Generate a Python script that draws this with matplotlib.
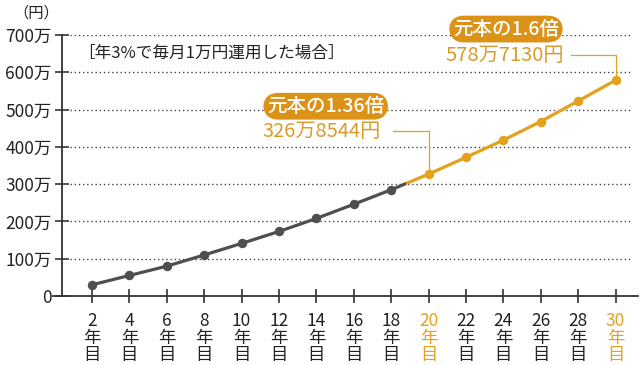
import matplotlib
matplotlib.use("Agg")
import matplotlib.pyplot as plt
from matplotlib.patches import Rectangle

plt.rcParams["font.family"] = ["Noto Sans CJK JP", "DejaVu Sans"]

# data (万円)
YEARS = [2, 4, 6, 8, 10, 12, 14, 16, 18, 20, 22, 24, 26, 28, 30]
VALUES = [30, 55, 80, 110, 141, 173, 208, 246, 285, 326.85, 372, 418, 468, 523, 578.71]
YTICKS = [0, 100, 200, 300, 400, 500, 600, 700]
YTICK_LABELS = ["0", "100万", "200万", "300万", "400万", "500万", "600万", "700万"]
HIGHLIGHT = [20, 30]

GRAY = "#4f4f4f"
ORANGE = "#E3A11E"
BOX = "#DB9216"
TXT_ORANGE = "#D99B2A"
SPLIT = 18.8  # where the line turns orange

fig = plt.figure(figsize=(6.4, 3.65), dpi=100)
ax = fig.add_axes([52.7 / 640, 1 - 296 / 365, (638 - 52.7) / 640, (296 - 35) / 365])
ax.set_xlim(-0.1, 31.2)
ax.set_ylim(0, 700)

# dotted gridlines
ax.hlines(YTICKS[1:], 0.85, 30.9, colors="#444444", linestyles=(0, (1, 2.0)),
          linewidth=1.0, zorder=1)

# line: gray part then orange part
gray_clip = Rectangle((-1, -100), SPLIT + 1, 1000, transform=ax.transData)
org_clip = Rectangle((SPLIT, -100), 20, 1000, transform=ax.transData)
lg, = ax.plot(YEARS, VALUES, color=GRAY, linewidth=2.3, zorder=3)
lg.set_clip_path(gray_clip)
lo, = ax.plot(YEARS, VALUES, color=ORANGE, linewidth=2.3, zorder=3)
lo.set_clip_path(org_clip)
gx = [x for x in YEARS if x < SPLIT]
gy = [v for x, v in zip(YEARS, VALUES) if x < SPLIT]
ox = [x for x in YEARS if x > SPLIT]
oy = [v for x, v in zip(YEARS, VALUES) if x > SPLIT]
ax.plot(gx, gy, "o", color=GRAY, markersize=5.8, zorder=4)
ax.plot(ox, oy, "o", color=ORANGE, markersize=5.8, zorder=4)

# spines and ticks
for s in ("top", "right"):
    ax.spines[s].set_visible(False)
ax.spines["left"].set_position(("data", 0.4))
ax.spines["left"].set_color("#333333")
ax.spines["bottom"].set_color("#333333")
ax.spines["left"].set_linewidth(1.3)
ax.spines["bottom"].set_linewidth(1.3)

ax.set_yticks(YTICKS)
ax.set_yticklabels(YTICK_LABELS)
ax.tick_params(axis="y", direction="inout", length=10, width=1.2, color="#333333",
               labelsize=12.5, pad=2.5, labelcolor="#222222")
ax.set_xticks(YEARS)
ax.set_xticklabels([f"{y}\n年\n目" for y in YEARS], linespacing=0.9)
ax.tick_params(axis="x", direction="inout", length=9.5, width=1.2, color="#333333",
               labelsize=12.5, pad=7, labelcolor="#222222")
for lab, y in zip(ax.get_xticklabels(), YEARS):
    if y in HIGHLIGHT:
        lab.set_color(ORANGE)

# annotations
ax.text(1.25, 651, "［年3%で毎月1万円運用した場合］", fontsize=12, color="#222222",
        va="center", ha="left")
fig.text(36 / 640, 1 - 13 / 365, "（円）", fontsize=11, color="#222222",
         ha="center", va="center")

box = dict(boxstyle="round,pad=0.2,rounding_size=0.8", fc=BOX, ec="none")
ax.text(14.5, 509, "元本の1.36倍", fontsize=14, color="white", fontweight="medium",
        ha="center", va="center", bbox=box, zorder=5)
ax.text(11.1, 442, "326万8544円", fontsize=14.5, color=TXT_ORANGE,
        ha="left", va="center", zorder=5)
ax.plot([18.1, 20, 20], [442, 442, VALUES[9] + 8], color=ORANGE, linewidth=0.9, zorder=2)

ax.text(24.14, 716, "元本の1.6倍", fontsize=14, color="white", fontweight="medium",
        ha="center", va="center", bbox=box, zorder=5, clip_on=False)
ax.text(20.88, 646, "578万7130円", fontsize=14.5, color=TXT_ORANGE,
        ha="left", va="center", zorder=5)
ax.plot([27.6, 30, 30], [646, 646, VALUES[-1] + 8], color=ORANGE, linewidth=0.9, zorder=2)

fig.savefig("out.png", dpi=100)
